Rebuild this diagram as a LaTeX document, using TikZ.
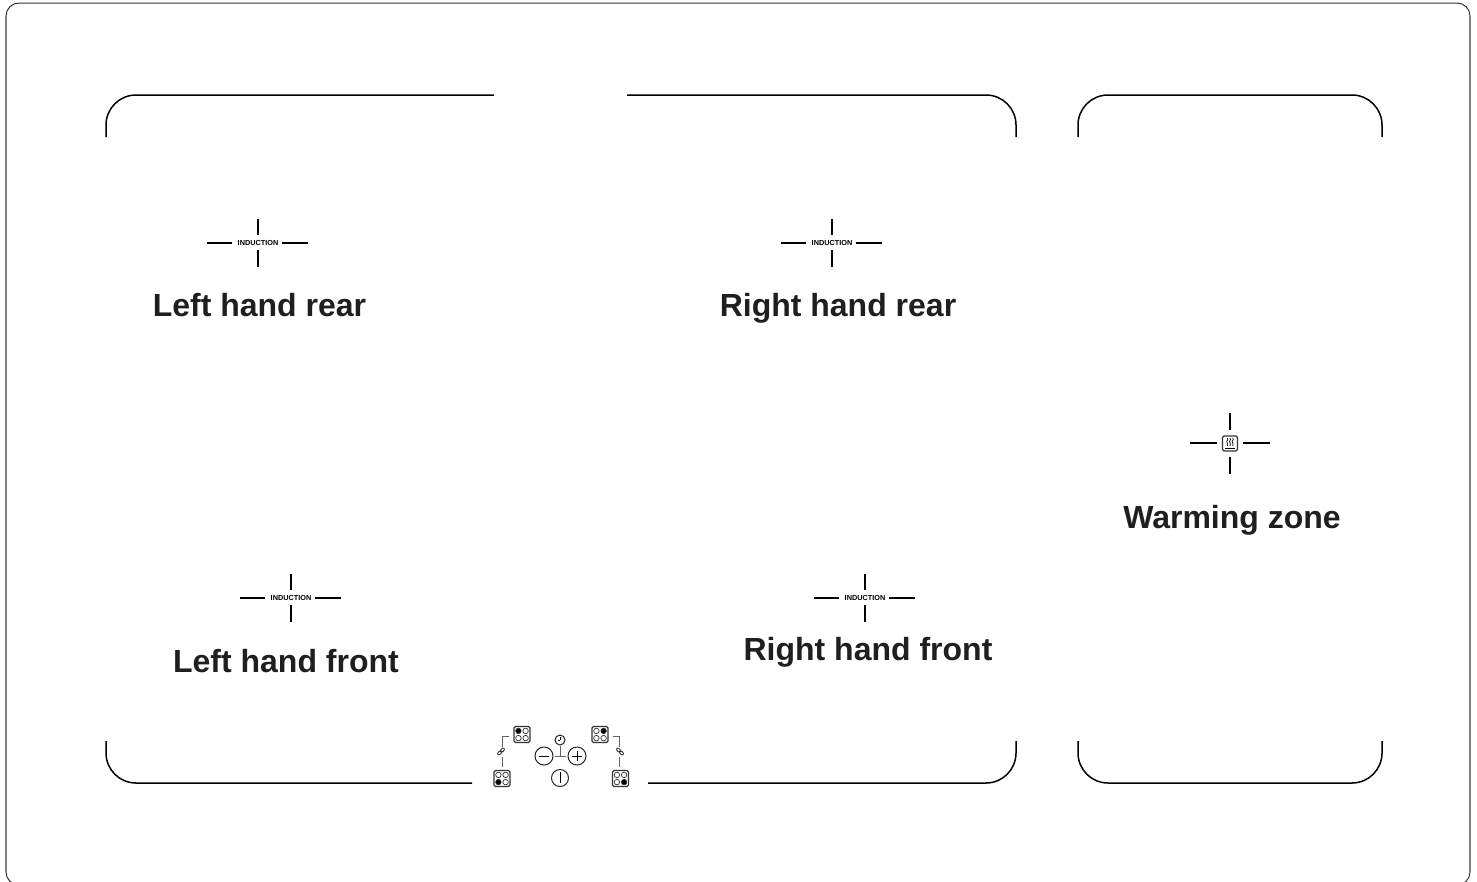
\documentclass[tikz,border=0pt]{standalone}
\usepackage{fontspec}
\setmainfont{Liberation Sans}
\tikzset{
  x=1pt,y=-1pt,
  frameline/.style={draw=black,line width=1.5pt,rounded corners=30pt},
  outerline/.style={draw=black!80,line width=1pt,rounded corners=13pt},
  outerside/.style={draw=black!50,line width=2.2pt},
  zonelabel/.style={font=\fontsize{32}{36}\selectfont\bfseries,text=black!88,inner sep=0pt,anchor=base},
  indlabel/.style={font=\fontsize{7.3}{8}\selectfont\bfseries,inner sep=0pt,anchor=center},
  tick/.style={draw=black,line width=1.25pt},
  thin icon/.style={draw=black!60,line width=1pt},
  panelbox/.style={draw=black!80,line width=1.1pt,rounded corners=1.5pt,minimum size=16pt,inner sep=0pt},
  symbol/.style={circle,draw=black!85,line width=1pt,minimum size=17pt,inner sep=0pt},
  hobdot/.style={circle,draw=black!80,line width=0.7pt,minimum size=5.5pt,inner sep=0pt},
}
\newcommand{\indcross}[3]{%
  \node[indlabel] (#1) at (#2,#3) {INDUCTION};
  \draw[tick] (#2-51,#3) -- (#2-26,#3);
  \draw[tick] (#2+24,#3) -- (#2+50,#3);
  \draw[tick] (#2,#3-24) -- (#2,#3-8);
  \draw[tick] (#2,#3+7) -- (#2,#3+24);
}
\newcommand{\hobdots}[5]{%
  \path (#1) +(-3.6,-3.6) node[hobdot,fill=#2] {}
             +(3.6,-3.6) node[hobdot,fill=#3] {}
             +(-3.6,3.6) node[hobdot,fill=#4] {}
             +(3.6,3.6) node[hobdot,fill=#5] {};
}
\begin{document}
\begin{tikzpicture}
\useasboundingbox (0,0) rectangle (1477,881);
\begin{scope}
\clip (0,0) rectangle (1477,881);
\draw[outerline] (6,3) rectangle (1470,885);
\draw[outerside] (6,16) -- (6,872);
\draw[outerside] (1470,16) -- (1470,872);
\end{scope}
% main frame
\draw[frameline] (106,137) -- (106,95) -- (494,95);
\draw[frameline] (627,95) -- (1016,95) -- (1016,137);
\draw[frameline] (106,741) -- (106,783) -- (472,783);
\draw[frameline] (648,783) -- (1016,783) -- (1016,741);
% warming frame
\draw[frameline] (1078,137) -- (1078,95) -- (1382,95) -- (1382,137);
\draw[frameline] (1078,741) -- (1078,783) -- (1382,783) -- (1382,741);
% zones
\indcross{lr}{258}{243}
\indcross{rr}{832}{243}
\indcross{lf}{291}{598}
\indcross{rf}{865}{598}
\node[zonelabel] (lrt) at (259.5,316) {Left hand rear};
\node[zonelabel] (rrt) at (838,316) {Right hand rear};
\node[zonelabel] (lft) at (286,672) {Left hand front};
\node[zonelabel] (rft) at (868,660) {Right hand front};
\node[zonelabel] (wzt) at (1232,528) {Warming zone};
% warming cross
\node[panelbox,minimum size=15pt] (wz) at (1230,443.5) {};
\draw[tick] (1190,443) -- (1217,443);
\draw[tick] (1243,443) -- (1270,443);
\draw[tick] (1230,413) -- (1230,430);
\draw[tick] (1230,457) -- (1230,474);
\foreach \dx in {-2.7,0,2.7}{
  \draw[black,line width=0.7pt] (1230+\dx,438) .. controls (1230+\dx+2,440) and (1230+\dx-2,441) .. (1230+\dx,443) .. controls (1230+\dx+1,444) and (1230+\dx,445) .. (1230+\dx,446);
}
\draw[black,line width=0.9pt] (1225,448.3) -- (1235,448.3);
% control panel
\node[panelbox] (tl) at (522,734.5) {};
\hobdots{tl}{black}{white}{white}{white}
\node[panelbox] (tr) at (600,734.5) {};
\hobdots{tr}{white}{black}{white}{white}
\node[panelbox] (bl) at (502,778.5) {};
\hobdots{bl}{white}{white}{black}{white}
\node[panelbox] (br) at (620.5,778.5) {};
\hobdots{br}{white}{white}{white}{black}
\node[symbol,minimum size=10pt] (clock) at (560,740) {};
\draw[black,line width=0.8pt] (560,740) -- (560,737) (560,740) -- (557.5,740);
\node[symbol,minimum size=18pt] (minus) at (544,756) {};
\node[symbol,minimum size=18pt] (plus) at (577,756) {};
\node[symbol] (power) at (560,778) {};
\draw[black,line width=1pt] (power.north) ++(0,3) -- ++(0,11);
\draw[black,line width=1pt] (minus.center) ++(-5,0) -- ++(10,0);
\draw[black,line width=1pt] (plus.center) ++(-5,0) -- ++(10,0) (plus.center) ++(0,-5) -- ++(0,10);
\coordinate (tj) at (560,756);
\draw[thin icon,shorten <=1.5pt,shorten >=1.5pt] (minus) -- (plus);
\draw[thin icon] (clock) -- (tj);
% link brackets
\coordinate (ll) at (501,751.5);
\coordinate (rl) at (620,751.5);
\draw[thin icon,shorten <=4pt] (tl.west |- 0,736) -| (502,746.5);
\draw[thin icon,shorten >=3pt] (502,757) -- (bl.north);
\draw[thin icon,shorten <=4pt] (tr.east |- 0,736) -| (619,746.5);
\draw[thin icon,shorten >=3pt] (619,757) -- (br.north -| 619,0);
\draw[black!80,line width=0.9pt,rotate around={-45:(ll)}] (ll) ++(0,-2) ellipse (1.5 and 2.4);
\draw[black!80,line width=0.9pt,rotate around={-45:(ll)}] (ll) ++(0,2) ellipse (1.5 and 2.4);
\draw[black!80,line width=0.9pt,rotate around={45:(rl)}] (rl) ++(0,-2) ellipse (1.5 and 2.4);
\draw[black!80,line width=0.9pt,rotate around={45:(rl)}] (rl) ++(0,2) ellipse (1.5 and 2.4);
\end{tikzpicture}
\end{document}
